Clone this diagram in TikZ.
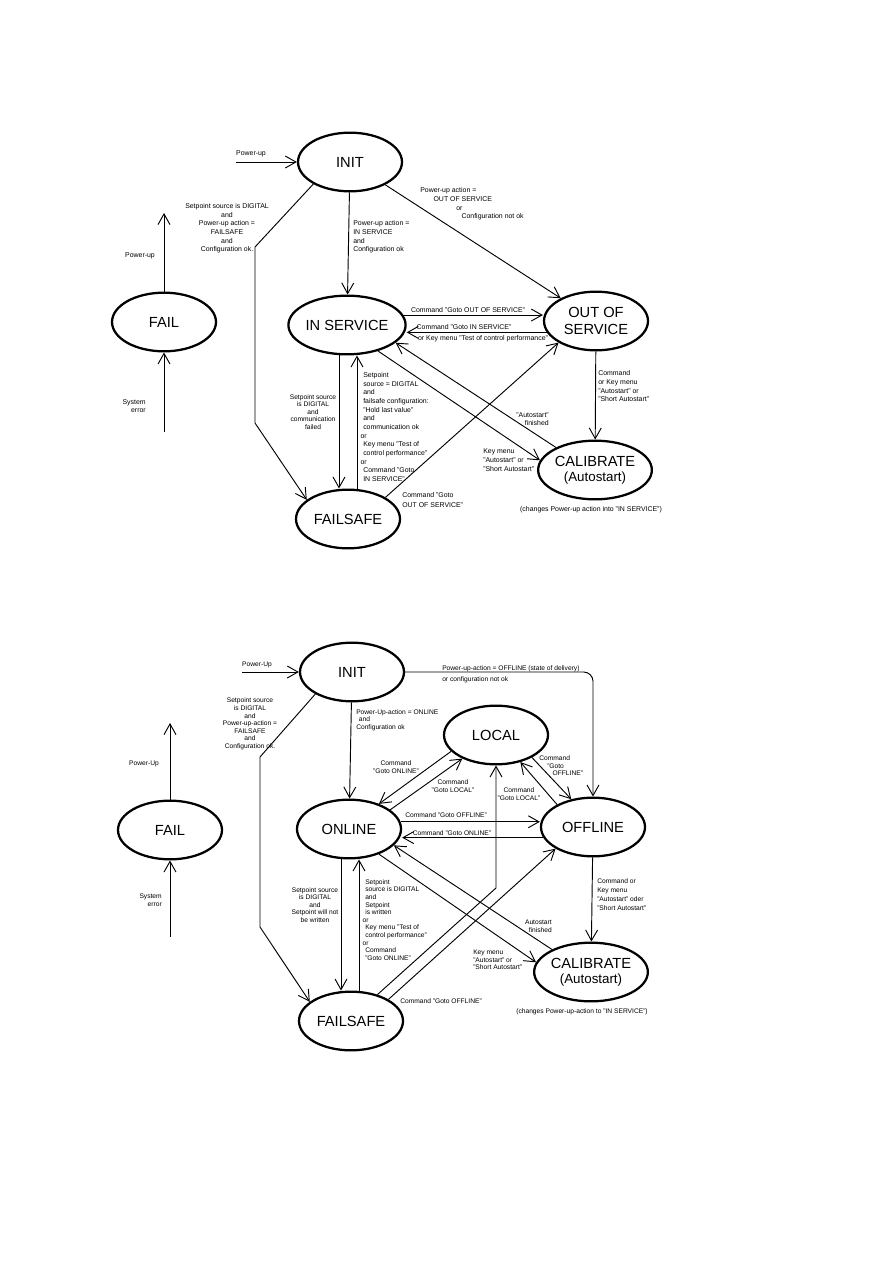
\documentclass[tikz,border=0pt]{standalone}
\usepackage{fontspec}
\setmainfont{Liberation Sans}
\usetikzlibrary{arrows.meta,shapes.geometric}

\begin{document}
\begin{tikzpicture}[x=0.75pt,y=-0.75pt,
    state/.style={ellipse, draw, line width=1.7pt, minimum width=78pt,
        minimum height=44pt, inner sep=0pt, align=center,
        font=\fontsize{11}{13}\selectfont},
    arr/.style={-{Straight Barb[length=8pt,width=9pt]}, line width=0.7pt},
    lbl/.style={inner sep=0pt, font=\fontsize{5.2}{6.5}\selectfont},
    lblb/.style={inner sep=0pt, font=\fontsize{5}{5.7}\selectfont}]
    \useasboundingbox (0,0) rectangle (893,1263);

    % upper diagram
    \node[state] (init1) at (350,162) {INIT};
    \node[state] (fail1) at (164,322) {FAIL};
    \node[state] (insvc) at (347,325) {IN SERVICE};
    \node[state] (outsvc) at (596,321) {OUT OF\\SERVICE};
    \node[state] (failsafe1) at (348,519) {FAILSAFE};
    \node[state] (calib1) at (595,470)
        {CALIBRATE\\[-2pt]{\fontsize{10}{12}\selectfont(Autostart)}};

    \coordinate (pu1) at (236,162);
    \coordinate (pu2) at (164,213);
    \coordinate (se1) at (164,432);
    \draw[arr] (pu1) -- (init1);
    \draw[arr] (fail1) -- (pu2);
    \draw[arr] (se1) -- (fail1);
    \draw[arr] (init1) -- (insvc);
    \draw[arr] (init1.-149) -- (255,247) -- (255,423) -- (failsafe1.155);
    \draw[arr] (init1) -- (outsvc);
    \draw[arr] (insvc.south -| 339,0) -- (failsafe1.north -| 339,0);
    \draw[arr] (failsafe1.north -| 357,0) -- (insvc.south -| 357,0);
    \draw[arr] (insvc.10) -- (insvc.10 -| outsvc.west);
    \draw[arr] (outsvc.-167) -- (outsvc.-167 -| insvc.east);
    \draw[arr] (insvc.-40) -- (calib1.170);
    \draw[arr] (calib1.150) -- (insvc.-20);
    \draw[arr] (failsafe1.30) -- (outsvc.-150);
    \draw[arr] (outsvc) -- (calib1);

    \node[lbl] (lpu1) at (251,154) {Power-up};
    \node[lbl] (lpu2) at (140,256) {Power-up};
    \node[lbl, align=right, anchor=east] (lse1) at (146,406) {System\\error};
    \node[lbl, align=left, anchor=west] (lins) at (353,237)
        {Power-up action =\\IN SERVICE\\and\\Configuration ok};
    \node[lbl, align=center] (lfs1) at (227,228.5)
        {Setpoint source is DIGITAL\\and\\Power-up action =\\FAILSAFE\\and\\Configuration ok.};
    \node[lbl, align=left, anchor=west] (loos) at (420,204)
        {Power-up action =\\\hspace*{10pt}OUT OF SERVICE\\\hspace*{27pt}or\\\hspace*{31pt}Configuration not ok};
    \node[lblb, align=center] (ldn1) at (313,412)
        {Setpoint source\\is DIGITAL\\and\\communication\\failed};
    \node[lbl, align=left, anchor=west] (lup1) at (363,427)
        {Setpoint\\source = DIGITAL\\and\\failsafe configuration:\\"Hold last value"\\and\\communication ok\\\hspace*{-2pt}or\\Key menu "Test of\\control performance"\\\hspace*{-2pt}or\\Command "Goto\\IN SERVICE"};
    \node[lbl] (lgo1) at (468,310) {Command "Goto OUT OF SERVICE"};
    \node[lbl] (lgi1) at (464,327) {Command "Goto IN SERVICE"};
    \node[lbl] (lkt1) at (483,339) {or Key menu "Test of control performance"};
    \node[lbl, align=left, anchor=west] (lkey1) at (483,460)
        {Key menu\\"Autostart" or\\"Short Autostart"};
    \node[lbl, align=right, anchor=east] (lfin1) at (549,419)
        {"Autostart"\\finished};
    \node[lbl, align=left, anchor=west] (lgo2) at (402,500)
        {Command "Goto\\[1pt]OUT OF SERVICE"};
    \node[lbl, align=left, anchor=west] (lcal1) at (598,386.5)
        {Command\\or Key menu\\"Autostart" or\\"Short Autostart"};
    \node[lbl] (lchg1) at (591,510) {(changes Power-up action into "IN SERVICE")};

    % lower diagram
    \node[state] (init2) at (352,672) {INIT};
    \node[state] (fail2) at (170,830) {FAIL};
    \node[state] (online) at (349,829) {ONLINE};
    \node[state] (local) at (496,735) {LOCAL};
    \node[state] (offline) at (593,827) {OFFLINE};
    \node[state] (failsafe2) at (351,1021) {FAILSAFE};
    \node[state] (calib2) at (591,972)
        {CALIBRATE\\[-2pt]{\fontsize{10}{12}\selectfont(Autostart)}};

    \coordinate (pu3) at (242,672);
    \coordinate (pu4) at (170,723);
    \coordinate (se2) at (170,937);
    \draw[arr] (pu3) -- (init2);
    \draw[arr] (fail2) -- (pu4);
    \draw[arr] (se2) -- (fail2);
    \draw[arr] (init2) -- (online);
    \draw[arr] (init2.-149) -- (260,757) -- (260,927) -- (failsafe2.155);
    \draw[arr, rounded corners=7pt] (init2.east) -- (init2.east -| offline.north)
        -- (offline.north);
    \draw[arr] (local.-160) -- (online.40);
    \draw[arr] (online.25) -- (local.-145);
    \draw[arr] (failsafe2.45) -- (local.south |- 0,888) -- (local.south);
    \draw[arr] (failsafe2.30) -- (offline.-150);
    \draw[arr] (local.-32) -- (offline.128);
    \draw[arr] (offline.148) -- (local.-48);
    \draw[arr] (online.8) -- (online.8 -| offline.west);
    \draw[arr] (offline.-168) -- (offline.-168 -| online.east);
    \draw[arr] (online.south -| 341,0) -- (failsafe2.north -| 341,0);
    \draw[arr] (failsafe2.north -| 359,0) -- (online.south -| 359,0);
    \draw[arr] (online.-40) -- (calib2.170);
    \draw[arr] (calib2.150) -- (online.-20);
    \draw[arr] (offline) -- (calib2);

    \node[lblb] (lpu3) at (257,665) {Power-Up};
    \node[lblb] (lpu4) at (144,764) {Power-Up};
    \node[lblb, align=right, anchor=east] (lse2) at (162,900) {System\\error};
    \node[lblb, align=left, anchor=west] (lonl) at (356,720)
        {Power-Up-action = ONLINE\\\hspace*{2pt}and\\Configuration ok};
    \node[lblb, align=center] (lfs2) at (250,724)
        {Setpoint source\\is DIGITAL\\and\\Power-up-action =\\FAILSAFE\\and\\Configuration ok.};
    \node[lblb, align=left, anchor=west] (loff) at (442,674.5)
        {Power-up-action = OFFLINE (state of delivery)\\[2.5pt]or configuration not ok};
    \node[lblb, align=center] (ldn2) at (315,905)
        {Setpoint source\\is DIGITAL\\and\\Setpoint will not\\be written};
    \node[lblb, align=left, anchor=west] (lup2) at (365,920)
        {Setpoint\\source is DIGITAL\\and\\Setpoint\\is written\\\hspace*{-2pt}or\\Key menu "Test of\\control performance"\\\hspace*{-2pt}or\\Command\\"Goto ONLINE"};
    \node[lblb, align=center] (lgoonl) at (396,767) {Command\\"Goto ONLINE"};
    \node[lblb, align=center] (lgoloc) at (453,786) {Command\\"Goto LOCAL"};
    \node[lblb, align=center] (lgoloc2) at (519,794) {Command\\"Goto LOCAL"};
    \node[lblb, align=left, anchor=west] (lgooff) at (539,766)
        {Command\\\hspace*{6pt}"Goto\\\hspace*{10pt}OFFLINE"};
    \node[lblb] (lgooff2) at (446,815) {Command "Goto OFFLINE"};
    \node[lblb] (lgoonl2) at (452,833) {Command "Goto ONLINE"};
    \node[lblb, align=left, anchor=west] (lkey2) at (473,960)
        {Key menu\\"Autostart" or\\"Short Autostart"};
    \node[lblb, align=right, anchor=east] (lfin2) at (552,926.5)
        {Autostart\\finished};
    \node[lblb, align=left, anchor=west] (lcal2) at (597,895)
        {Command or\\[1pt]Key menu\\[1pt]"Autostart" oder\\[1pt]"Short Autostart"};
    \node[lblb, anchor=west] (lgo3) at (400,1001) {Command "Goto OFFLINE"};
    \node[lblb] (lchg2) at (582,1012) {(changes Power-up-action to "IN SERVICE")};
\end{tikzpicture}
\end{document}
